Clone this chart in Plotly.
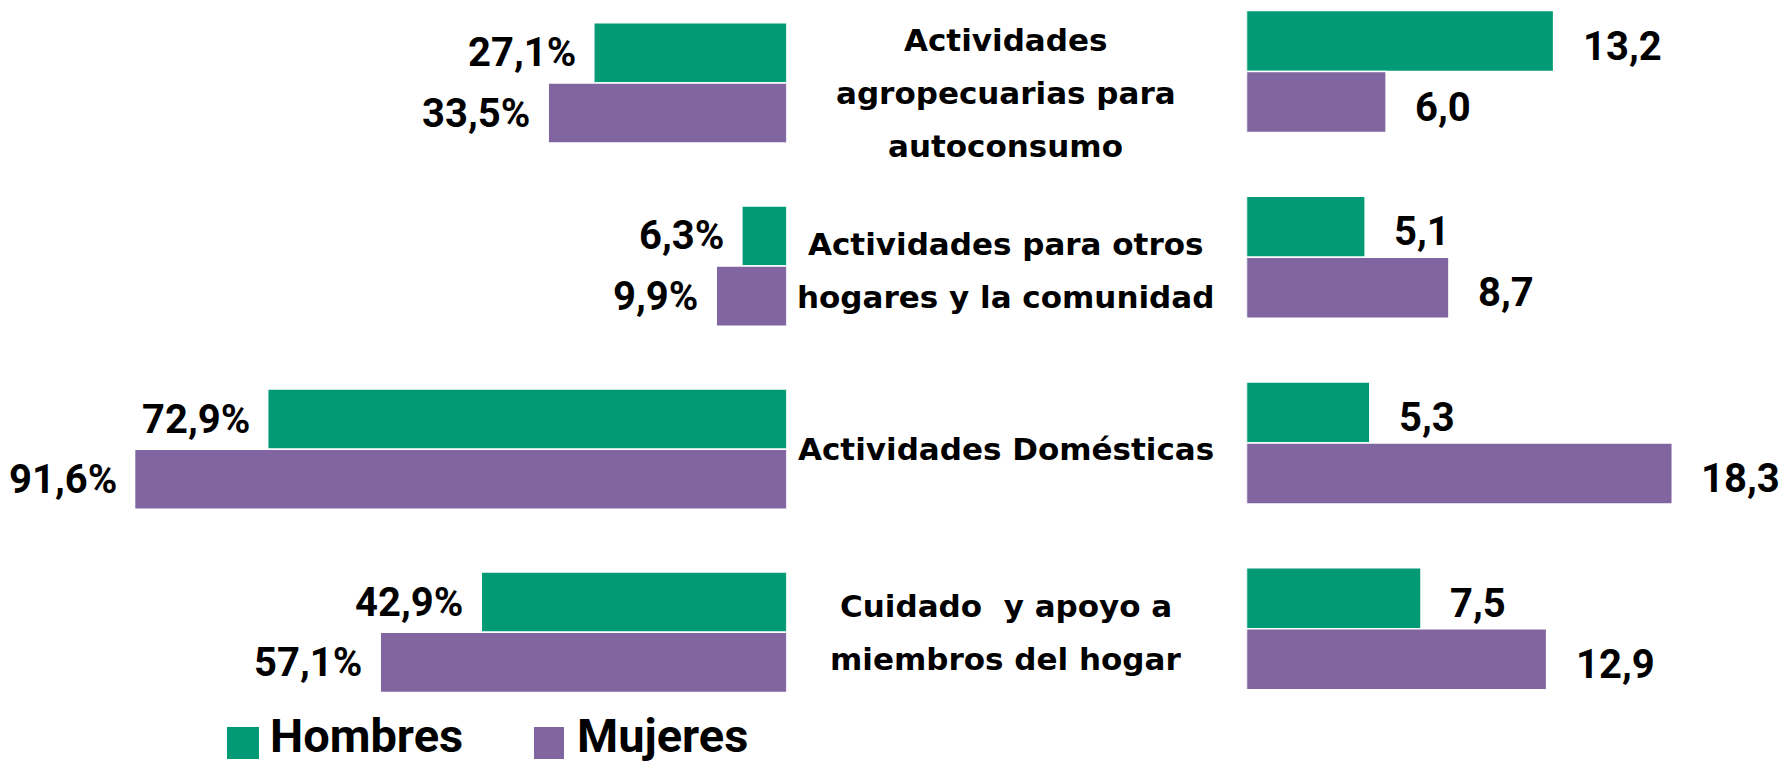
import plotly.graph_objects as go

categories = [
    "Actividades<br>agropecuarias para<br>autoconsumo",
    "Actividades para otros<br>hogares y la comunidad",
    "Actividades Domésticas",
    "Cuidado  y apoyo a<br>miembros del hogar",
]
series_names = ["Hombres", "Mujeres"]
pct_hombres = [27.1, 6.3, 72.9, 42.9]
pct_mujeres = [33.5, 9.9, 91.6, 57.1]
hrs_hombres = [13.2, 5.1, 5.3, 7.5]
hrs_mujeres = [6.0, 8.7, 18.3, 12.9]

GREEN = "#029A74"
PURPLE = "#8065A1"
W = 0.3285
pos = list(range(len(categories)))

def fmt(v, pct=False):
    s = f"{v:.1f}".replace(".", ",")
    return s + ("%" if pct else "")

fig = go.Figure()
for vals, name, col, off, xa, ya in [
    (pct_hombres, series_names[0], GREEN, -W, "x", "y"),
    (pct_mujeres, series_names[1], PURPLE, 0, "x", "y"),
    (hrs_hombres, series_names[0], GREEN, -W, "x2", "y2"),
    (hrs_mujeres, series_names[1], PURPLE, 0, "x2", "y2"),
]:
    fig.add_trace(go.Bar(
        x=vals, y=pos, orientation="h", name=name,
        marker=dict(color=col, line=dict(color="white", width=1.5)),
        width=W, offset=off, xaxis=xa, yaxis=ya, showlegend=False,
    ))

num_font = dict(family="Roboto", size=40, color="black", weight="bold")
annotations = []
for i in pos:
    for vals, dy in [(pct_hombres, -W / 2), (pct_mujeres, W / 2)]:
        annotations.append(dict(
            x=vals[i], y=i + dy, xref="x", yref="y", text=fmt(vals[i], True),
            showarrow=False, xanchor="right", yanchor="middle", xshift=-16,
            font=num_font,
        ))
    for vals, dy in [(hrs_hombres, -W / 2), (hrs_mujeres, W / 2)]:
        annotations.append(dict(
            x=vals[i], y=i + dy, xref="x2", yref="y2", text=fmt(vals[i]),
            showarrow=False, xanchor="left", yanchor="middle", xshift=27, yshift=-5,
            font=num_font,
        ))

cat_font = dict(family="DejaVu Sans", size=31, color="black", weight="bold")
LINE = 53
label_shift = [-10, -4, 0, 0]
for i, c in enumerate(categories):
    lines = c.replace("  ", " \u00a0").split("<br>")
    n = len(lines)
    for j, ln in enumerate(lines):
        annotations.append(dict(
            x=0.565, y=i, xref="paper", yref="y", text=ln, showarrow=False,
            xanchor="center", yanchor="middle",
            yshift=-(j - (n - 1) / 2) * LINE + label_shift[i], font=cat_font,
        ))

leg_font = dict(family="Roboto", size=47, color="black", weight="bold")
shapes = []
for name, col, x0, x1, tx in [
    (series_names[0], GREEN, 227, 259, 268),
    (series_names[1], PURPLE, 534, 564, 575),
]:
    shapes.append(dict(type="rect", xref="paper", yref="paper",
                       x0=x0 / 1780, x1=x1 / 1780, y0=1 - 759 / 765, y1=1 - 727 / 765,
                       fillcolor=col, line=dict(width=0)))
    annotations.append(dict(x=tx / 1780, y=0, xref="paper", yref="paper",
                            text=name, showarrow=False, xanchor="left", yanchor="bottom",
                            font=leg_font))

hidden = dict(visible=False, showgrid=False, zeroline=False, fixedrange=True)
fig.update_layout(
    width=1780, height=765,
    margin=dict(l=0, r=0, t=0, b=0),
    paper_bgcolor="white", plot_bgcolor="white",
    barmode="overlay",
    xaxis=dict(domain=[0, 786.7 / 1780], range=[110.5, 0], **hidden),
    yaxis=dict(domain=[0, 1], range=[3.725, -0.453], **hidden),
    xaxis2=dict(domain=[1246.5 / 1780, 1], range=[0, 22.93], anchor="y2", **hidden),
    yaxis2=dict(domain=[0, 1], range=[3.733, -0.385], anchor="x2", **hidden),
    annotations=annotations,
    shapes=shapes,
)
fig.write_html(
    "out.html",
    config={"displayModeBar": False},
    post_script="document.body.style.margin='0';document.body.style.overflow='hidden';",
)
